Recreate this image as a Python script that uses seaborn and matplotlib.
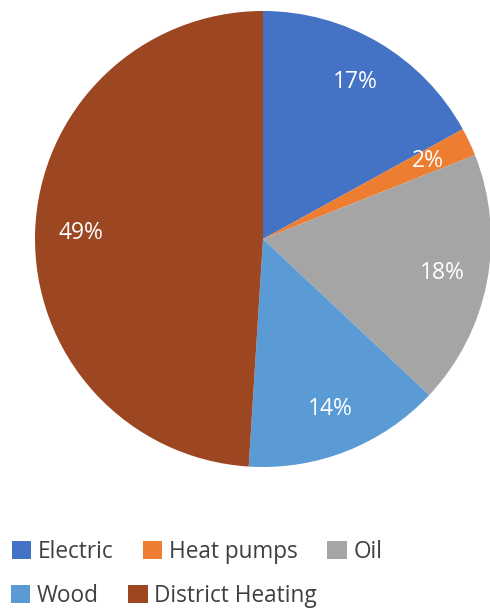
import matplotlib
matplotlib.use("Agg")
import matplotlib.pyplot as plt
import seaborn as sns
from matplotlib.patches import Patch

# данные
labels = ["Electric", "Heat pumps", "Oil", "Wood", "District Heating"]
shares = [17, 2, 18, 14, 49]
colors = ["#4472C4", "#ED7D31", "#A5A5A5", "#5B9BD5", "#9C4622"]

sns.set_theme(style="white")
plt.rcParams["font.family"] = ["Open Sans", "DejaVu Sans"]

fig = plt.figure(figsize=(4.9, 6.1), dpi=100)
ax = fig.add_axes([35 / 490, 143 / 610, 456 / 490, 456 / 610])

pal = sns.color_palette(colors)
wedges, texts, autotexts = ax.pie(
    shares, colors=pal, startangle=90, counterclock=False,
    autopct=lambda p: f"{p:.0f}%", pctdistance=0.8,
    wedgeprops={"linewidth": 0, "edgecolor": "none"},
    textprops={"color": "white", "fontsize": 16.5},
)
ax.set_xlim(-1, 1)
ax.set_ylim(-1, 1)
ax.set_aspect("equal")
ax.axis("off")

# легенда в две строки
handles = [Patch(facecolor=c, edgecolor="none") for c in pal]
common = dict(frameon=False, fontsize=16.3, labelcolor="#404040",
              handlelength=0.85, handleheight=0.85, handletextpad=0.3,
              columnspacing=1.3, borderaxespad=0, borderpad=0)
leg1 = fig.legend(handles[:3], labels[:3], ncol=3, loc="center left",
                  bbox_to_anchor=(12 / 490, 1 - 552 / 610), **common)
leg2 = fig.legend(handles[3:], labels[3:], ncol=2, loc="center left",
                  bbox_to_anchor=(11 / 490, 1 - 596 / 610), **common)

fig.savefig("out.png", dpi=100)
